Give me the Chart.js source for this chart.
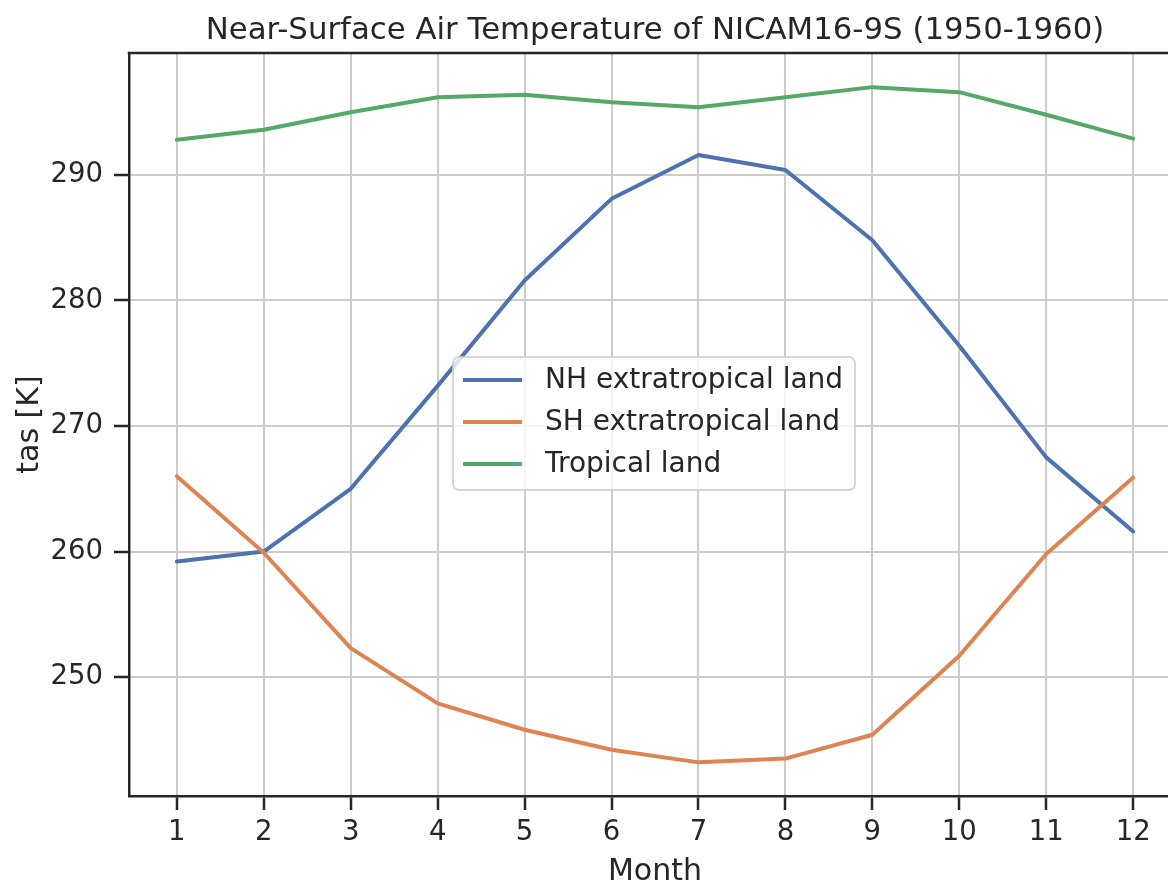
<!DOCTYPE html>
<html>
<head>
<meta charset="utf-8">
<script src="https://cdn.jsdelivr.net/npm/chart.js@4/dist/chart.umd.min.js"></script>
<style>
html, body { margin:0; padding:0; background:#fff; overflow:hidden; }
#wrap { width:1200px; height:884px; position:relative; }
</style>
</head>
<body>
<div id="wrap"><canvas id="myChart" width="1200" height="884"></canvas></div>
<script>
var months = [1,2,3,4,5,6,7,8,9,10,11,12];
var nh = [259.2, 260.0, 265.0, 273.2, 281.6, 288.1, 291.6, 290.4, 284.8, 276.4, 267.5, 261.6];
var sh = [266.0, 259.9, 252.3, 247.9, 245.8, 244.2, 243.2, 243.5, 245.4, 251.7, 259.8, 265.9];
var trop = [292.8, 293.6, 295.0, 296.2, 296.4, 295.8, 295.4, 296.2, 297.0, 296.6, 294.8, 292.9];
var yTicks = [250, 260, 270, 280, 290];
var seriesNames = ['NH extratropical land', 'SH extratropical land', 'Tropical land'];
var colors = ['#4c72b0', '#dd8452', '#55a868'];
var titleText = 'Near-Surface Air Temperature of NICAM16-9S (1950-1960)';

var ink = '#262626';
var font = 'DejaVu Sans';

function pts(arr){
    return months.map(function(m, i){ return {x: m, y: arr[i]}; });
}

// 標題 + 上邊框 + 圖例 (matplotlib 風格)
var framePlugin = {
    id: 'frame',
    afterDraw: function(chart){
        var ctx = chart.ctx;
        var a = chart.chartArea;
        ctx.save();
        // title centered over the axes
        ctx.fillStyle = ink;
        ctx.font = '30.8px "' + font + '"';
        ctx.textAlign = 'center';
        ctx.textBaseline = 'alphabetic';
        ctx.fillText(titleText, (a.left + a.right) / 2, 39);

        ctx.strokeStyle = ink;
        ctx.lineWidth = 2.5;
        ctx.beginPath();
        ctx.moveTo(a.left - 1.25, a.top);
        ctx.lineTo(a.right, a.top);
        ctx.stroke();

        // legend box
        var bx = a.left + 324, by = a.top + 304, bw = 402, bh = 133, r = 6;
        ctx.beginPath();
        ctx.moveTo(bx + r, by);
        ctx.arcTo(bx + bw, by, bx + bw, by + bh, r);
        ctx.arcTo(bx + bw, by + bh, bx, by + bh, r);
        ctx.arcTo(bx, by + bh, bx, by, r);
        ctx.arcTo(bx, by, bx + bw, by, r);
        ctx.closePath();
        ctx.fillStyle = 'rgba(255,255,255,0.8)';
        ctx.fill();
        ctx.strokeStyle = 'rgba(204,204,204,0.8)';
        ctx.lineWidth = 2;
        ctx.stroke();

        ctx.font = '28px "' + font + '"';
        ctx.textBaseline = 'middle';
        ctx.textAlign = 'left';
        chart.data.datasets.forEach(function(ds, i){
            var yy = by + 23 + i * 42;
            ctx.strokeStyle = ds.borderColor;
            ctx.lineWidth = 4;
            ctx.beginPath();
            ctx.moveTo(bx + 10, yy);
            ctx.lineTo(bx + 69, yy);
            ctx.stroke();
            ctx.fillStyle = ink;
            ctx.fillText(ds.label, bx + 92, yy + 1);
        });
        ctx.restore();
    }
};

var ctx = document.getElementById('myChart').getContext('2d');
var myChart = new Chart(ctx, {
    type: 'line',
    data: {
        datasets: [
            {label: seriesNames[0], data: pts(nh), borderColor: colors[0], backgroundColor: colors[0], order: 2},
            {label: seriesNames[1], data: pts(sh), borderColor: colors[1], backgroundColor: colors[1], order: 1},
            {label: seriesNames[2], data: pts(trop), borderColor: colors[2], backgroundColor: colors[2], order: 0}
        ]
    },
    options: {
        responsive: false,
        animation: false,
        devicePixelRatio: 1,
        layout: { padding: { left: 0, right: 19, top: 53, bottom: 0 } },
        elements: {
            point: { radius: 0, hoverRadius: 0 },
            line: { borderWidth: 4, tension: 0, borderCapStyle: 'round', borderJoinStyle: 'round' }
        },
        plugins: {
            legend: { display: false },
            tooltip: { enabled: false },
            title: { display: false }
        },
        scales: {
            x: {
                type: 'linear',
                min: 0.45,
                max: 12.55,
                afterBuildTicks: function(s){ s.ticks = months.map(function(v){ return {value: v}; }); },
                afterFit: function(s){ s.height = 88; },
                grid: { color: '#cccccc', lineWidth: 2, tickColor: ink, tickWidth: 2.5, tickLength: 14 },
                border: { display: true, color: ink, width: 2.5 },
                ticks: { color: ink, padding: 6, maxRotation: 0, autoSkip: false,
                         font: { family: font, size: 27.5 } },
                title: { display: true, text: 'Month', color: ink, padding: 0,
                         font: { family: font, size: 30, lineHeight: 0.8 } }
            },
            y: {
                type: 'linear',
                min: 240.52,
                max: 299.72,
                afterBuildTicks: function(s){ s.ticks = yTicks.map(function(v){ return {value: v}; }); },
                afterFit: function(s){ s.width = 129; },
                grid: { color: '#cccccc', lineWidth: 2, tickColor: ink, tickWidth: 2.5, tickLength: 15 },
                border: { display: true, color: ink, width: 2.5 },
                ticks: { color: ink, padding: 11, font: { family: font, size: 27.5 } },
                title: { display: true, text: 'tas [K]', color: ink, padding: { top: 12, bottom: 0 },
                         font: { family: font, size: 30, lineHeight: 1.2 } }
            }
        }
    },
    plugins: [framePlugin]
});
</script>
</body>
</html>
